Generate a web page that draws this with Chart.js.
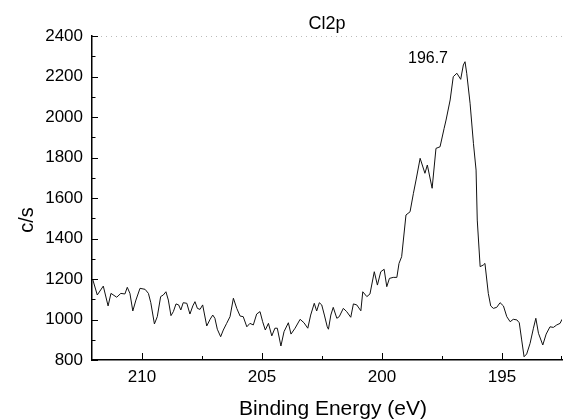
<!DOCTYPE html>
<html><head><meta charset="utf-8">
<script src="https://cdn.jsdelivr.net/npm/chart.js@4/dist/chart.umd.min.js"></script>
<style>html,body{margin:0;padding:0;background:#fff}#wrap{width:563px;height:420px;position:relative}</style>
</head><body><div id="wrap"><canvas id="c" width="563" height="420"></canvas></div>
<script>
const energy = [212.05,211.86,211.61,211.41,211.29,211.05,210.88,210.71,210.61,210.50,210.38,210.25,210.08,209.87,209.73,209.63,209.48,209.36,209.22,209.11,209.00,208.90,208.79,208.69,208.58,208.47,208.38,208.28,208.13,208.00,207.88,207.79,207.69,207.58,207.47,207.30,207.16,207.05,206.96,206.86,206.72,206.61,206.47,206.33,206.19,206.05,205.91,205.78,205.63,205.50,205.36,205.22,205.08,204.97,204.86,204.73,204.59,204.46,204.36,204.21,204.08,203.90,203.79,203.62,203.41,203.25,203.09,202.97,202.82,202.72,202.61,202.51,202.40,202.28,202.23,202.13,202.03,201.88,201.78,201.61,201.47,201.30,201.19,201.05,200.88,200.80,200.63,200.50,200.32,200.19,200.05,199.91,199.80,199.69,199.53,199.38,199.29,199.18,199.00,198.83,198.69,198.58,198.41,198.21,198.11,197.91,197.75,197.58,197.41,197.33,197.16,197.03,196.88,196.72,196.61,196.54,196.47,196.33,196.19,196.08,196.03,195.91,195.78,195.71,195.57,195.47,195.36,195.22,195.08,194.94,194.80,194.66,194.53,194.38,194.28,194.18,194.08,193.97,193.83,193.69,193.59,193.48,193.30,193.16,193.00,192.86,192.72,192.58,192.50];
const counts = [1198,1121,1165,1067,1129,1110,1129,1126,1159,1129,1042,1096,1154,1149,1129,1083,978,1014,1113,1121,1137,1096,1019,1039,1077,1072,1047,1083,1080,1027,1067,1088,1055,1050,1072,968,1001,1022,1006,952,915,948,981,1014,1105,1055,1017,1014,964,981,973,1027,1039,989,948,981,919,957,957,869,940,984,928,957,1001,984,957,1022,1080,1042,1083,1072,1022,964,952,1022,1060,1006,1014,1055,1039,1011,1077,1072,1043,1137,1113,1126,1236,1170,1236,1248,1162,1203,1208,1208,1277,1310,1516,1532,1623,1689,1796,1722,1763,1648,1845,1853,1944,1985,2084,2199,2216,2186,2257,2273,2216,2068,1870,1738,1491,1261,1269,1277,1129,1067,1055,1060,1083,1067,1014,989,1001,998,984,899,816,830,882,957,1006,932,874,928,964,961,973,981,1001];
const xTickLabels = [210, 205, 200, 195];
const yTickLabels = [800, 1000, 1200, 1400, 1600, 1800, 2000, 2200, 2400];
const titleText = 'Cl2p';
const xTitleText = 'Binding Energy (eV)';
const yTitleText = 'c/s';
const peakLabel = '196.7';

const FONT = '"Liberation Sans", Arial, Helvetica, sans-serif';
const points = energy.map((e, i) => ({x: e, y: counts[i]}));

const decor = {
  id: 'decor',
  afterDraw(chart) {
    const ctx = chart.ctx, a = chart.chartArea;
    const xs = chart.scales.x, ys = chart.scales.y;
    ctx.save();
    // top dotted frame line
    ctx.strokeStyle = '#bbb'; ctx.lineWidth = 1; ctx.setLineDash([1, 4]);
    ctx.beginPath(); ctx.moveTo(a.left + 4, a.top + 0.5); ctx.lineTo(a.right, a.top + 0.5); ctx.stroke();
    ctx.setLineDash([]);
    // inward ticks
    ctx.strokeStyle = '#000'; ctx.lineWidth = 1;
    const yv = yTickLabels;
    for (let i = 0; i < yv.length; i++) {
      const p = Math.round(ys.getPixelForValue(yv[i])) + 0.5;
      ctx.beginPath(); ctx.moveTo(a.left, p); ctx.lineTo(a.left + 6, p); ctx.stroke();
      if (i < yv.length - 1) {
        const m = Math.round(ys.getPixelForValue((yv[i] + yv[i + 1]) / 2)) + 0.5;
        ctx.beginPath(); ctx.moveTo(a.left, m); ctx.lineTo(a.left + 3.5, m); ctx.stroke();
      }
    }
    const xv = xTickLabels;
    const step = xv[0] - xv[1];
    for (const v of xv) {
      const p = Math.round(xs.getPixelForValue(v)) + 0.5;
      ctx.beginPath(); ctx.moveTo(p, a.bottom); ctx.lineTo(p, a.bottom - 7); ctx.stroke();
    }
    const minors = [];
    for (let i = 0; i < xv.length; i++) { minors.push(xv[i] - step / 2); minors.push(xv[i] + step / 2); }
    for (const v of new Set(minors)) {
      if (v < xs.min || v > xs.max) continue;
      const p = Math.min(Math.round(xs.getPixelForValue(v)) + 0.5, a.right - 0.5);
      ctx.beginPath(); ctx.moveTo(p, a.bottom); ctx.lineTo(p, a.bottom - 4); ctx.stroke();
    }
    // texts
    ctx.fillStyle = '#000';
    ctx.textAlign = 'center'; ctx.textBaseline = 'alphabetic';
    ctx.font = '18px ' + FONT;
    ctx.fillText(titleText, (a.left + a.right) / 2, 29);
    ctx.font = '21px ' + FONT;
    ctx.fillText(xTitleText, 333, 415);
    ctx.font = '16px ' + FONT;
    ctx.fillText(peakLabel, 428, 63);
    ctx.save();
    ctx.translate(33, 220); ctx.rotate(-Math.PI / 2);
    ctx.font = '20px ' + FONT;
    ctx.fillText(yTitleText, 0, 0);
    ctx.restore();
    ctx.restore();
  }
};

new Chart(document.getElementById('c').getContext('2d'), {
  type: 'line',
  data: { datasets: [{ data: points, borderColor: '#111', borderWidth: 1, pointRadius: 0, tension: 0, fill: false }] },
  options: {
    responsive: false, animation: false, devicePixelRatio: 1,
    layout: { padding: { left: 0, top: 36, right: 1, bottom: 0 } },
    plugins: { legend: { display: false }, tooltip: { enabled: false }, title: { display: false } },
    scales: {
      x: {
        type: 'linear', reverse: true, min: 192.5, max: 212.08,
        afterBuildTicks: s => { s.ticks = xTickLabels.map(v => ({ value: v })); },
        afterFit: s => { s.height = 60; },
        grid: { display: false, drawTicks: false },
        border: { display: true, color: '#000', width: 1.5 },
        ticks: { padding: 7, color: '#000', font: { family: FONT, size: 17 }, maxRotation: 0, autoSkip: false, callback: v => String(v) }
      },
      y: {
        type: 'linear', min: 800, max: 2400,
        afterBuildTicks: s => { s.ticks = yTickLabels.map(v => ({ value: v })); },
        afterFit: s => { s.width = 92; },
        grid: { display: false, drawTicks: false },
        border: { display: true, color: '#000', width: 1.5 },
        ticks: { padding: 9, color: '#000', font: { family: FONT, size: 17 }, autoSkip: false, callback: v => String(v) }
      }
    }
  },
  plugins: [decor]
});
</script></body></html>
